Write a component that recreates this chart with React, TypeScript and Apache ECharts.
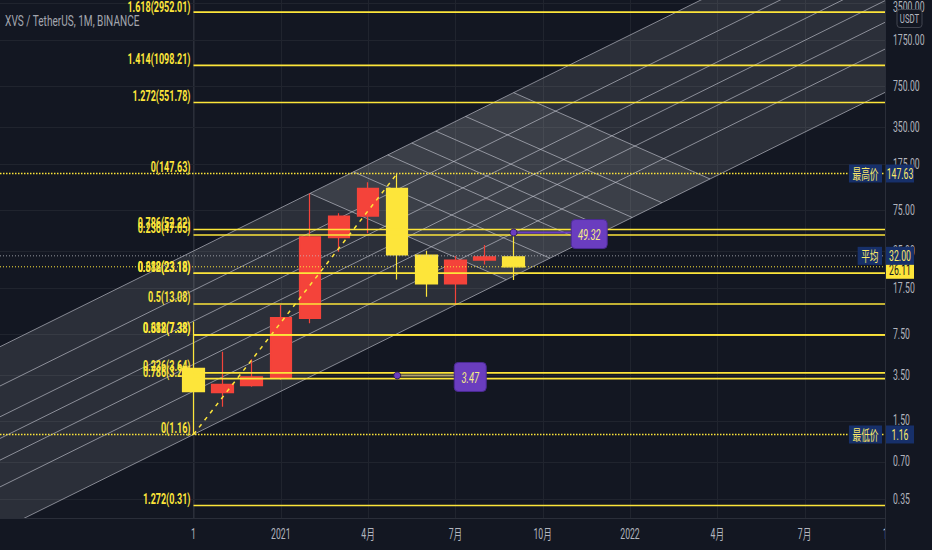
import React, { useEffect, useRef } from "react";
import * as echarts from "echarts";

// ---------- colours ----------
const BG = "#131722";
const GRID = "#20242e";
const BORDER = "#2a2e39";
const YELLOW = "#fde53a";
const RED = "#f4433a";
const TEXT = "#b2b5be";
const NAVY = "#17306a";
const TAG_TEXT = "#fbe96a";
const PURPLE = "#6a3dbf";
const CH_LINE = "rgba(210,212,222,0.58)";
const FONT = 'Roboto, "Noto Sans CJK SC", sans-serif';
const SX = 0.62;

// ---------- data (monthly bars, index 0 = Oct 2020) ----------
const barIndex = [0, 1, 2, 3, 4, 5, 6, 7, 8, 9, 10, 11];
const opens = [3.96, 2.52, 2.87, 3.33, 10.03, 44.8, 67.0, 112, 32.5, 19.0, 29.6, 31.4];
const closes = [2.57, 2.94, 3.39, 10.14, 45.6, 67.0, 112, 32.5, 19.0, 29.6, 31.4, 26.11];
const lows = [1.16, 1.94, 2.82, 3.2, 9.14, 34.5, 48.6, 20.6, 14.98, 12.86, 27.3, 20.4];
const highs = [9.4, 5.39, 4.69, 12.84, 102, 70.4, 125.4, 147.63, 35.2, 31.9, 39.1, 49.32];

const xTickValues = [0, 3, 6, 9, 12, 15, 18, 21, 24];
const xTickLabels = ["1", "2021", "4月", "7月", "10月", "2022", "4月", "7月", "10月"];
const yTickValues = [3500, 1750, 750, 350, 175, 75, 35, 17.5, 7.5, 3.5, 1.5, 0.7, 0.35];

// fibonacci levels (two retracement tools between the low 1.16 and the high 147.63)
const fibPrices = [2952.01, 1098.21, 551.78, 52.22, 47.05, 23.18, 23.18, 13.08, 7.38, 7.38, 3.64, 3.27, 0.31];
const fibLabels = [
  "1.618(2952.01)", "1.414(1098.21)", "1.272(551.78)", "0.786(52.22)", "0.236(47.05)",
  "0.618(23.18)", "0.382(23.18)", "0.5(13.08)", "0.382(7.38)", "0.618(7.38)",
  "0.236(3.64)", "0.786(3.27)", "1.272(0.31)",
];
const fibEndLabels = ["0(147.63)", "0(1.16)"];
const avgPrice = 32.0;

// fib channel: base through two lows, width through the Feb high
const channelBase = [[0, 1.16], [9, 12.86]];
const channelWidthPoint = [4, 102];
const channelLevels = [0, 0.236, 0.382, 0.5, 0.618, 0.786, 1];
// crossing (descending) channel anchors, in months
const crossStart = 11;
const crossEnd = 17.75;
const crossShift = 7;

// price notes
const noteAt = [[11, 49.32], [7, 3.47]];
const noteBoxAt = [12.98, 8.96];
const noteText = ["49.32", "3.47"];
const noteLine = [PURPLE, "#b3a46c"];

const tagNames = ["最高价", "平均", "最低价"];

const xMin = -6.65;
const xMax = 23.763;
const yMin = 0.246;
const yMax = 3700.6;

// ---------- helpers ----------
const lg = Math.log10;
const slope = (lg(channelBase[1][1]) - lg(channelBase[0][1])) / (channelBase[1][0] - channelBase[0][0]);
const baseLog = (i: number) => lg(channelBase[0][1]) + slope * (i - channelBase[0][0]);
const chWidth = lg(channelWidthPoint[1]) - baseLog(channelWidthPoint[0]);
const chanPrice = (r: number, i: number) => Math.pow(10, baseLog(i) + r * chWidth);

function txt(x: number, y: number, text: string, o: any = {}) {
  return {
    type: "text",
    x,
    y,
    scaleX: o.sx ?? SX,
    style: {
      text,
      fill: o.fill ?? TEXT,
      fontSize: o.size ?? 14,
      fontFamily: FONT,
      fontWeight: o.weight ?? "normal",
      fontStyle: o.fontStyle ?? "normal",
      align: o.align ?? "left",
      verticalAlign: o.valign ?? "middle",
    },
  };
}

function hline(x1: number, x2: number, y: number, stroke: string, lineWidth = 1, lineDash?: number[]) {
  return { type: "line", shape: { x1, y1: y, x2, y2: y }, style: { stroke, lineWidth, lineDash } };
}

// ---------- layers ----------
function renderChannels(params: any, api: any) {
  const cs = params.coordSys;
  const P = (i: number, p: number) => api.coord([i, p]);
  const ch: any[] = [];
  xTickValues.forEach((v) => {
    const x = Math.round(P(v, 1)[0]) + 0.5;
    ch.push({ type: "line", shape: { x1: x, y1: cs.y, x2: x, y2: cs.y + cs.height }, style: { stroke: GRID, lineWidth: 1 } });
  });
  yTickValues.forEach((v) => {
    const y = Math.round(P(0, v)[1]) + 0.5;
    ch.push(hline(cs.x, cs.x + cs.width, y, GRID, 1));
  });
  const L = -14;
  const R = 30;
  ch.push({
    type: "polygon",
    shape: { points: [P(L, chanPrice(0, L)), P(R, chanPrice(0, R)), P(R, chanPrice(1, R)), P(L, chanPrice(1, L))] },
    style: { fill: "rgba(255,255,255,0.105)" },
  });
  const cross = (r: number) => {
    const a = crossStart - crossShift * r;
    const b = crossEnd - crossShift * r;
    return [P(a, chanPrice(1, a)), P(b, chanPrice(0, b))];
  };
  const c0 = cross(0);
  const c1 = cross(1);
  ch.push({ type: "polygon", shape: { points: [c0[0], c0[1], c1[1], c1[0]] }, style: { fill: "rgba(255,255,255,0.08)" } });
  channelLevels.forEach((r) => {
    const a = P(L, chanPrice(r, L));
    const b = P(R, chanPrice(r, R));
    ch.push({ type: "line", shape: { x1: a[0], y1: a[1], x2: b[0], y2: b[1] }, style: { stroke: CH_LINE, lineWidth: 1 } });
  });
  channelLevels.forEach((r) => {
    const [a, b] = cross(r);
    ch.push({ type: "line", shape: { x1: a[0], y1: a[1], x2: b[0], y2: b[1] }, style: { stroke: CH_LINE, lineWidth: 1 } });
  });
  return { type: "group", children: ch };
}

function renderFib(params: any, api: any) {
  const cs = params.coordSys;
  const P = (i: number, p: number) => api.coord([i, p]);
  const ch: any[] = [];
  const left = cs.x;
  const right = cs.x + cs.width;
  const x0 = P(0, 1)[0];
  const hi = Math.max(...highs);
  const lo = Math.min(...lows);
  const last = closes[closes.length - 1];
  // dotted full-width lines
  ch.push(hline(left, right, P(0, avgPrice)[1], "rgba(200,202,210,0.7)", 1, [1, 2]));
  ch.push(hline(left, right, P(0, last)[1], YELLOW, 1, [1, 2]));
  ch.push(hline(left, right, P(0, hi)[1], YELLOW, 1.5, [1.5, 1.5]));
  ch.push(hline(left, right, P(0, lo)[1], YELLOW, 1.5, [1.5, 1.5]));
  // fib lines
  fibPrices.forEach((p, n) => {
    const y = P(0, p)[1];
    ch.push(hline(x0, right, y, YELLOW, 1.6));
    ch.push(txt(x0 - 3, Math.max(y - 6.5, cs.y + 7), fibLabels[n], { fill: YELLOW, size: 15, weight: "bold", sx: 0.6, align: "right" }));
  });
  [hi, lo].forEach((p, n) => {
    const y = P(0, p)[1];
    ch.push(txt(x0 - 3, y - 6.5, fibEndLabels[n], { fill: YELLOW, size: 15, weight: "bold", sx: 0.6, align: "right" }));
  });
  // trend line of the fib tool
  const a = P(0, lo);
  const b = P(7, hi);
  ch.push({ type: "line", shape: { x1: a[0], y1: a[1], x2: b[0], y2: b[1] }, style: { stroke: YELLOW, lineWidth: 1.5, lineDash: [4, 5] } });
  // price notes
  noteAt.forEach((pt, n) => {
    const d = P(pt[0], pt[1]);
    const bx = P(noteBoxAt[n], pt[1])[0];
    ch.push(hline(d[0], bx, d[1], noteLine[n], 2));
    ch.push({ type: "circle", shape: { cx: d[0], cy: d[1], r: 3.5 }, style: { fill: PURPLE, stroke: "#2a1a55", lineWidth: 1 } });
    const w = n === 0 ? 36 : 32;
    ch.push({ type: "rect", shape: { x: bx, y: d[1] - 13, width: w, height: 29, r: 4 }, style: { fill: PURPLE, stroke: "#4b2a93", lineWidth: 1 } });
    ch.push(txt(bx + w / 2, d[1] + 2, noteText[n], { fill: "#f6ec86", size: 15, fontStyle: "italic", sx: 0.62, align: "center" }));
  });
  return { type: "group", children: ch };
}

function renderOverlay(params: any, api: any) {
  const cs = params.coordSys;
  const P = (i: number, p: number) => api.coord([i, p]);
  const ch: any[] = [];
  const right = cs.x + cs.width;
  const bottom = cs.y + cs.height;
  const W = api.getWidth();
  const H = api.getHeight();
  // time labels
  xTickValues.forEach((v, n) => {
    ch.push(txt(P(v, 1)[0], bottom + 16, xTickLabels[n], { align: "center" }));
  });
  // price panel
  ch.push({ type: "rect", shape: { x: right + 1, y: 0, width: W - right, height: H }, style: { fill: BG } });
  ch.push({ type: "line", shape: { x1: right + 0.5, y1: 0, x2: right + 0.5, y2: H }, style: { stroke: BORDER, lineWidth: 1 } });
  yTickValues.forEach((v) => {
    ch.push(txt(right + 8, Math.max(P(0, v)[1], 7), v.toFixed(2)));
  });
  // currency badge
  ch.push({ type: "rect", shape: { x: right + 12, y: 9.5, width: 25, height: 18, r: 3 }, style: { fill: BG, stroke: "#434651", lineWidth: 1 } });
  ch.push(txt(right + 24.5, 19, "USDT", { size: 12, align: "center", sx: 0.65 }));
  // price tags
  const hi = Math.max(...highs);
  const lo = Math.min(...lows);
  const last = closes[closes.length - 1];
  const axisTag = (price: number, bg: string, fg: string, dy = 0) => {
    const y = P(0, price)[1] + dy;
    ch.push({ type: "rect", shape: { x: right + 1, y: y - 9, width: 28, height: 18 }, style: { fill: bg } });
    ch.push(txt(right + 15, y + 0.5, price.toFixed(2), { fill: fg, align: "center" }));
  };
  const nameTag = (price: number, name: string) => {
    const y = P(0, price)[1];
    const w = name.length * 14 * SX + 7;
    ch.push({ type: "rect", shape: { x: right - 3 - w, y: y - 9, width: w, height: 18 }, style: { fill: NAVY } });
    ch.push(txt(right - 3 - w / 2, y + 0.5, name, { fill: TAG_TEXT, align: "center" }));
  };
  axisTag(last, YELLOW, BG, 3);
  axisTag(avgPrice, NAVY, TAG_TEXT);
  axisTag(hi, NAVY, TAG_TEXT);
  axisTag(lo, NAVY, TAG_TEXT);
  nameTag(hi, tagNames[0]);
  nameTag(avgPrice, tagNames[1]);
  nameTag(lo, tagNames[2]);
  return { type: "group", children: ch };
}

export default function App() {
  const ref = useRef<HTMLDivElement>(null);
  useEffect(() => {
    if (!ref.current) return;
    const chart = echarts.init(ref.current, undefined, { renderer: "svg" });
    chart.setOption({
      animation: false,
      backgroundColor: BG,
      grid: { left: 0, right: 47, top: 0, bottom: 32, containLabel: false },
      xAxis: {
        type: "value",
        min: xMin,
        max: xMax,
        axisLine: { show: true, lineStyle: { color: BORDER } },
        axisTick: { show: false },
        axisLabel: { show: false },
        splitLine: { show: false },
      },
      yAxis: {
        type: "log",
        logBase: 10,
        position: "right",
        min: yMin,
        max: yMax,
        axisLine: { show: true, lineStyle: { color: BORDER } },
        axisTick: { show: false },
        axisLabel: { show: false },
        splitLine: { show: false },
      },
      graphic: [
        {
          type: "text",
          x: 5,
          y: 21,
          scaleX: 0.72,
          z: 100,
          style: { text: "XVS / TetherUS, 1M, BINANCE", fill: "#a3a6af", fontSize: 14, fontFamily: FONT, verticalAlign: "middle" },
        },
      ],
      series: [
        {
          type: "custom",
          coordinateSystem: "cartesian2d",
          data: [[0, 1]],
          encode: { x: 0, y: 1 },
          clip: true,
          silent: true,
          z: 1,
          renderItem: renderChannels,
        },
        {
          type: "candlestick",
          data: barIndex.map((i, k) => [i, opens[k], closes[k], lows[k], highs[k]]),
          encode: { x: 0, y: [1, 2, 3, 4] },
          barWidth: 22,
          z: 2,
          itemStyle: { color: RED, color0: YELLOW, borderColor: RED, borderColor0: YELLOW, borderWidth: 1.2 },
        },
        {
          type: "custom",
          coordinateSystem: "cartesian2d",
          data: [[0, 1]],
          encode: { x: 0, y: 1 },
          clip: true,
          silent: true,
          z: 3,
          renderItem: renderFib,
        },
        {
          type: "custom",
          coordinateSystem: "cartesian2d",
          data: [[0, 1]],
          encode: { x: 0, y: 1 },
          clip: false,
          silent: true,
          z: 5,
          renderItem: renderOverlay,
        },
      ],
    });
    return () => chart.dispose();
  }, []);
  return <div ref={ref} style={{ position: "fixed", left: 0, top: 0, width: 932, height: 550, background: BG }} />;
}
